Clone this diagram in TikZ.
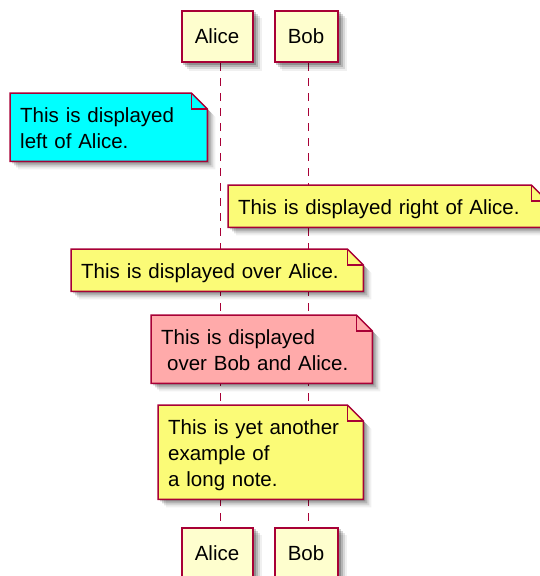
\documentclass[tikz,border=0pt]{standalone}
\usepackage{fontspec}
\setmainfont{Liberation Sans}
\usetikzlibrary{backgrounds}
\definecolor{umlred}{HTML}{A80036}
\definecolor{umlbeige}{HTML}{FEFECE}
\definecolor{umlyellow}{HTML}{FBFB77}
\definecolor{umlpink}{HTML}{FFAAAA}
\definecolor{umlcyan}{HTML}{00FFFF}
\tikzset{
  actor/.style={draw=umlred,fill=umlbeige,line width=2pt,minimum width=71pt,minimum height=51pt,inner sep=0pt,font=\fontsize{20.5}{26}\selectfont},
  note/.style={anchor=north west,inner xsep=10pt,inner ysep=0pt,text height=29pt,align=left,font=\fontsize{20.5}{26}\selectfont},
  notebox/.style={draw=umlred,line width=1.5pt},
  lifeline/.style={draw=umlred,line width=1.1pt,dash pattern=on 8pt off 7pt}
}
\newcommand{\actorshadow}[1]{%
  \foreach \sh/\op in {2/.2,4/.16,6/.11,8/.06}
    \fill[black,opacity=\op,transform canvas={shift={(\sh pt,-\sh pt)}}] (#1.north west) rectangle (#1.south east);
}
\newcommand{\foldnote}[2]{%
  \foreach \sh/\op in {2/.2,4/.16,6/.11,8/.06}
    \fill[black,opacity=\op,transform canvas={shift={(\sh pt,-\sh pt)}}] (#1.north west) -- ([xshift=-16pt]#1.north east) -- ([yshift=-16pt]#1.north east) -- (#1.south east) -- (#1.south west) -- cycle;
  \filldraw[notebox,fill=#2] (#1.north west) -- ([xshift=-16pt]#1.north east) -- ([yshift=-16pt]#1.north east) -- (#1.south east) -- (#1.south west) -- cycle;
  \draw[notebox] ([xshift=-16pt]#1.north east) |- ([yshift=-16pt]#1.north east);
}
\begin{document}
\begin{tikzpicture}[x=1pt,y=-1pt]
\useasboundingbox (0,0) rectangle (540,576);
\node[actor] (alicetop) at (217,36.5) {Alice};
\node[actor,minimum width=63pt] (bobtop) at (306,36.5) {Bob};
\node[actor] (alicebot) at (217,553.5) {Alice};
\node[actor,minimum width=63pt] (bobbot) at (306,553.5) {Bob};
\node[note,text width=177pt,text depth=39pt] (leftnote) at (10,93) {This is displayed\\left of Alice.};
\node[note,text width=299pt,text depth=13pt] (rightnote) at (228,185) {This is displayed right of Alice.};
\node[note,text width=272pt,text depth=13pt] (overalice) at (71,249) {This is displayed over Alice.};
\node[note,text width=201pt,text depth=39pt] (overboth) at (151,315) {This is displayed\\\hspace*{6pt}over Bob and Alice.};
\node[note,text width=185pt,text depth=65pt] (longnote) at (158,405) {This is yet another\\example of\\a long note.};
\begin{scope}[on background layer]
\draw[lifeline] ([xshift=3.5pt]alicetop.south) -- ([xshift=3.5pt]alicebot.north);
\draw[lifeline] ([xshift=2.5pt]bobtop.south) -- ([xshift=2.5pt]bobbot.north);
\actorshadow{alicetop}
\actorshadow{bobtop}
\actorshadow{alicebot}
\actorshadow{bobbot}
\foldnote{leftnote}{umlcyan}
\foldnote{rightnote}{umlyellow}
\foldnote{overalice}{umlyellow}
\foldnote{overboth}{umlpink}
\foldnote{longnote}{umlyellow}
\end{scope}
\end{tikzpicture}
\end{document}
